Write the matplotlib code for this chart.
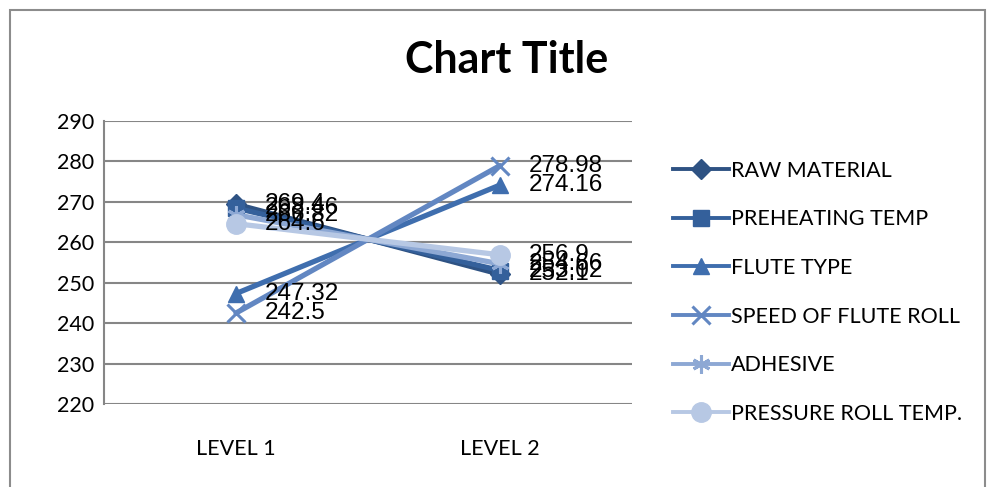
import matplotlib.pyplot as plt
from matplotlib.lines import Line2D
from matplotlib.patches import Rectangle

# factor levels and mean responses
levels = ["LEVEL 1", "LEVEL 2"]
raw_material = [269.4, 252.1]
preheating_temp = [268.46, 253.02]
flute_type = [247.32, 274.16]
speed_of_flute_roll = [242.5, 278.98]
adhesive = [266.82, 254.66]
pressure_roll_temp = [264.6, 256.9]

series_names = ["RAW MATERIAL", "PREHEATING TEMP", "FLUTE TYPE",
                "SPEED OF FLUTE ROLL", "ADHESIVE", "PRESSURE ROLL TEMP."]
y_ticks = [220, 230, 240, 250, 260, 270, 280, 290]

series = [raw_material, preheating_temp, flute_type,
          speed_of_flute_roll, adhesive, pressure_roll_temp]
colors = ["#2E5283", "#34609B", "#3F6EAE", "#6287C2", "#8DA8D4", "#B7C8E4"]
markers = ["D", "s", "^", "x", (6, 2, 0), "o"]
marker_sizes = [10, 11, 12, 13, 13, 14]

text_font = ["Lato", "DejaVu Sans"]


def edge_width(mk):
    return 2.2 if mk in ("x", (6, 2, 0)) else 1


fig = plt.figure(figsize=(9.91, 4.87), dpi=100)
# chart frame
fig.patches.append(Rectangle((10 / 991, -0.1), 975 / 991, 1 - 10 / 487 + 0.1,
                             transform=fig.transFigure, fill=False,
                             edgecolor="#8C8C8C", linewidth=1.5))
ax = fig.add_axes([104 / 991, 83 / 487, 528 / 991, 283 / 487])

x = [0, 1]
handles = []
for name, vals, col, mk, ms in zip(series_names, series, colors, markers, marker_sizes):
    ax.plot(x, vals, color=col, linewidth=3.8, solid_capstyle="round",
            marker=mk, markersize=ms, markeredgewidth=edge_width(mk),
            markeredgecolor=col, zorder=3)
    for xi, v in zip(x, vals):
        ax.annotate(f"{v:g}", (xi, v), xytext=(21, 0), textcoords="offset points",
                    va="center", ha="left", fontsize=17.5, family="Liberation Sans",
                    zorder=4)
    handles.append(Line2D([], [], color=col, linewidth=2.8, marker=mk, markersize=ms,
                          markeredgewidth=edge_width(mk), markeredgecolor=col))

ax.set_xlim(-0.5, 1.5)
ax.set_ylim(220, 290)
ax.set_yticks(y_ticks)
ax.set_xticks(x, labels=levels)
ax.tick_params(axis="y", length=0, pad=7, labelsize=15.5)
ax.tick_params(axis="x", length=0, pad=25, labelsize=15.5)
for lab in ax.get_xticklabels() + ax.get_yticklabels():
    lab.set_family(text_font)
ax.grid(axis="y", color="#868686", linewidth=1.5)
ax.set_axisbelow(True)
for side in ["top", "right", "bottom"]:
    ax.spines[side].set_visible(False)
ax.spines["left"].set_color("#868686")
ax.spines["left"].set_linewidth(1.5)

fig.text(507 / 991, 1 - 60 / 487, "Chart Title", ha="center", va="center",
         fontsize=31, fontweight="bold", family=text_font)

leg = fig.legend(handles, series_names, loc="upper left",
                 bbox_to_anchor=(662 / 991, 1 - 150 / 487), frameon=False,
                 prop={"family": text_font, "size": 15.5}, handlelength=2.6,
                 handletextpad=0.1, labelspacing=1.33, borderpad=0)

fig.savefig("out.png", dpi=100)
